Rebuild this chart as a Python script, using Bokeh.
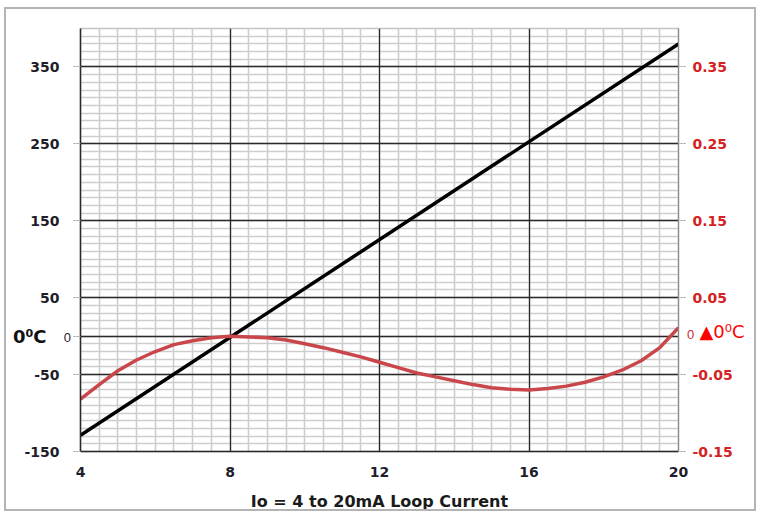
from bokeh.plotting import figure
from bokeh.models import Range1d, LinearAxis, FixedTicker, NumeralTickFormatter, Label, Grid
from bokeh.embed import file_html
from bokeh.resources import INLINE

# ---- data ----
current_ma = [4.0, 4.5, 5.0, 5.5, 6.0, 6.5, 7.0, 7.5, 8.0, 8.5, 9.0, 9.5, 10.0, 10.5,
              11.0, 11.5, 12.0, 12.5, 13.0, 13.5, 14.0, 14.5, 15.0, 15.5, 16.0, 16.5,
              17.0, 17.5, 18.0, 18.5, 19.0, 19.5, 20.0]
delta_c = [-0.082, -0.063, -0.045, -0.031, -0.020, -0.011, -0.006, -0.002, 0.000, -0.001,
           -0.002, -0.005, -0.010, -0.015, -0.021, -0.027, -0.034, -0.041, -0.048, -0.053,
           -0.058, -0.063, -0.067, -0.069, -0.070, -0.068, -0.065, -0.060, -0.053, -0.044,
           -0.032, -0.015, 0.011]
line_current = [4.0, 20.0]
line_temp = [-129.0, 380.0]

x_ticks = [4, 8, 12, 16, 20]
x_minor = [4.0 + 0.5 * i for i in range(33)]
left_ticks = [-150, -50, 0, 50, 150, 250, 350]
left_tick_labels = {-150: "-150", -50: "-50", 0: "", 50: "50", 150: "150", 250: "250", 350: "350"}
left_minor = [-150 + 10 * i for i in range(56)]
right_ticks = [-0.15, -0.05, 0.05, 0.15, 0.25, 0.35]
x_title = "Io = 4 to 20mA Loop Current"
left_unit_text = "0\u2070C"
right_unit_text = "\u25B20\u2070C"

# ---- figure ----
p = figure(width=752, height=504, output_backend="svg", toolbar_location=None,
           x_range=Range1d(4, 20), y_range=Range1d(-150, 400),
           min_border_left=74, min_border_right=80, min_border_top=19, min_border_bottom=62)
p.styles = {"border": "2px solid #b4b4b4", "margin-left": "4px", "margin-top": "7px"}
p.extra_y_ranges = {"right": Range1d(-0.15, 0.40)}
p.background_fill_color = "white"
p.border_fill_color = "white"
p.outline_line_color = "#c4c4c4"
p.outline_line_width = 1.5

xg = p.xgrid[0]
xg.ticker = FixedTicker(ticks=x_ticks, minor_ticks=x_minor)
xg.grid_line_color = None
xg.minor_grid_line_color = "#cdcdcd"
xg.minor_grid_line_width = 1.6

yg = p.ygrid[0]
yg.ticker = FixedTicker(ticks=left_ticks, minor_ticks=left_minor)
yg.grid_line_color = None
yg.minor_grid_line_color = "#cdcdcd"
yg.minor_grid_line_width = 1.6

for dim, ticks in ((0, x_ticks), (1, left_ticks)):
    g = Grid(dimension=dim, ticker=FixedTicker(ticks=ticks),
             grid_line_color="#2a2a2a", grid_line_width=1.3)
    p.add_layout(g)

xa = p.xaxis[0]
xa.ticker = FixedTicker(ticks=x_ticks)
xa.axis_line_color = "#2a2a2a"
xa.axis_line_width = 1.5
xa.major_tick_line_color = None
xa.minor_tick_line_color = None
xa.major_label_standoff = 9
xa.major_label_text_font = "DejaVu Sans"
xa.major_label_text_font_style = "bold"
xa.major_label_text_font_size = "14px"
xa.major_label_text_color = "#1e1e2a"
xa.axis_label = x_title
xa.axis_label_text_font = "DejaVu Sans"
xa.axis_label_text_font_style = "bold"
xa.axis_label_text_font_size = "16px"
xa.axis_label_text_color = "#1a1a1a"
xa.axis_label_standoff = 12

ya = p.yaxis[0]
ya.ticker = FixedTicker(ticks=left_ticks)
ya.major_label_overrides = left_tick_labels
ya.axis_line_color = "#2a2a2a"
ya.axis_line_width = 1.5
ya.major_tick_in = 0
ya.major_tick_out = 7
ya.major_tick_line_color = "#9a9a9a"
ya.major_tick_line_dash = "2 1"
ya.minor_tick_line_color = None
ya.major_label_standoff = 14
ya.major_label_text_font = "DejaVu Sans"
ya.major_label_text_font_style = "bold"
ya.major_label_text_font_size = "14px"
ya.major_label_text_color = "#1e1e2a"

ra = LinearAxis(y_range_name="right", ticker=FixedTicker(ticks=right_ticks),
                formatter=NumeralTickFormatter(format="0.00"))
ra.axis_line_color = "#8a8a8a"
ra.axis_line_width = 1.2
ra.major_tick_in = 0
ra.major_tick_out = 7
ra.major_tick_line_color = "#9a9a9a"
ra.major_tick_line_dash = "2 1"
ra.minor_tick_line_color = None
ra.major_label_standoff = 7
ra.major_label_text_font = "DejaVu Sans"
ra.major_label_text_font_style = "bold"
ra.major_label_text_font_size = "14px"
ra.major_label_text_color = "#d42222"
p.add_layout(ra, "right")

p.line(line_current, line_temp, line_color="black", line_width=3.5)
p.line(current_ma, delta_c, y_range_name="right", line_color="#c9474b", line_width=3.5,
       line_join="round")

# small "0" labels next to each axis (side-panel labels, not clipped to the frame)
p.add_layout(Label(x=4, y=0, x_offset=-9.5, y_offset=-1, text="0", text_align="right",
                   text_baseline="middle", text_font="Liberation Sans", text_font_size="13px",
                   text_color="#1e1e2a"), "left")
p.add_layout(Label(x=20, y=0, x_offset=8.5, y_offset=2, text="0", text_align="left",
                   text_baseline="middle", text_font="Liberation Sans", text_font_size="13px",
                   text_color="#c03030"), "right")

def unit_axis(text, tick, standoff, color, style):
    ax = LinearAxis(ticker=FixedTicker(ticks=[tick]), major_label_overrides={tick: text})
    ax.axis_line_color = None
    ax.major_tick_line_color = None
    ax.minor_tick_line_color = None
    ax.major_tick_in = 0
    ax.major_tick_out = 0
    ax.minor_tick_in = 0
    ax.minor_tick_out = 0
    ax.major_label_standoff = standoff
    ax.major_label_text_font = "DejaVu Sans"
    ax.major_label_text_font_style = style
    ax.major_label_text_font_size = "18px"
    ax.major_label_text_color = color
    return ax

p.add_layout(unit_axis(left_unit_text, 0, -32, "#111111", "bold"), "left")
p.add_layout(unit_axis(right_unit_text, 6.5, -43, "#ff0000", "normal"), "right")

open("out.html", "w").write(file_html(p, INLINE))
